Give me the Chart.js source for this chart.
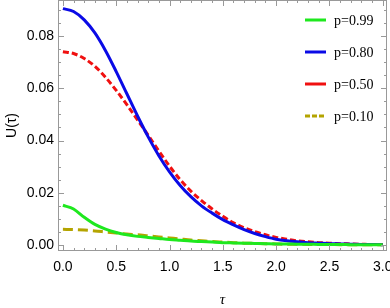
<!DOCTYPE html>
<html>
<head>
<meta charset="utf-8">
<script src="https://cdn.jsdelivr.net/npm/chart.js@4"></script>
<style>
  html, body { margin: 0; padding: 0; background: #fff; overflow: hidden; }
  #wrap { width: 390px; height: 308px; position: relative; }
</style>
</head>
<body>
<div id="wrap"><canvas id="chart"></canvas></div>
<script>
// tau grid and values
const tau = [0.0,0.1,0.2,0.3,0.4,0.5,0.6,0.7,0.8,0.9,1.0,1.1,1.2,1.3,1.4,1.5,1.6,1.7,1.8,1.9,2.0,2.1,2.2,2.3,2.4,2.5,2.6,2.7,2.8,2.9,3.0];
const u099 = [0.0152,0.0138,0.0106,0.0079,0.0061,0.0048,0.0039,0.0033,0.0029,0.0025,0.0021,0.0018,0.0015,0.0013,0.0011,0.0009,0.0008,0.0007,0.0006,0.0005,0.0004,0.0004,0.0003,0.0003,0.0002,0.0002,0.0002,0.0001,0.0001,0.0001,0.0001];
const u080 = [0.0905,0.0894,0.0862,0.0812,0.0744,0.0664,0.0579,0.0494,0.0414,0.0342,0.0280,0.0228,0.0185,0.0150,0.0122,0.0097,0.0077,0.0059,0.0044,0.0032,0.0022,0.0016,0.0012,0.0009,0.0007,0.0005,0.0004,0.0003,0.0002,0.0002,0.0001];
const u050 = [0.0740,0.0733,0.0714,0.0684,0.0642,0.0592,0.0537,0.0479,0.0420,0.0360,0.0302,0.0250,0.0206,0.0170,0.0138,0.0110,0.0085,0.0066,0.0051,0.0039,0.0029,0.0022,0.0016,0.0012,0.0009,0.0007,0.0005,0.0004,0.0003,0.0002,0.0002];
const u010 = [0.0060,0.0059,0.0057,0.0054,0.0050,0.0046,0.0042,0.0039,0.0035,0.0031,0.0027,0.0023,0.0019,0.0016,0.0013,0.0011,0.0009,0.0007,0.0006,0.0005,0.0004,0.0003,0.0003,0.0002,0.0002,0.0002,0.0001,0.0001,0.0001,0.0001,0.0001];

const xTicks = [0,0.5,1,1.5,2,2.5,3];
const yTicks = [0,0.02,0.04,0.06,0.08];
const legendLabels = ['p=0.99','p=0.80','p=0.50','p=0.10'];

const colors = ['#1ee81e','#0a0ae6','#f01010','#b4a400'];
const dashes = [[],[],[6,3],[10,5]];
const seriesList = [u099,u080,u050,u010];

const pts = arr => arr.map((v,i) => ({x: tau[i], y: v}));

// frame, inward ticks (major + minor) and legend
const framePlugin = {
  id: 'frame',
  afterDraw(chart){
    const {ctx, chartArea: a, scales: {x, y}} = chart;
    ctx.save();
    ctx.strokeStyle = '#999';
    ctx.lineWidth = 1;
    ctx.strokeRect(a.left+0.5, a.top+0.5, a.right-a.left-1, a.bottom-a.top-1);
    ctx.beginPath();
    for(let i=0;i<=30;i++){
      const v = i/10, px = Math.round(x.getPixelForValue(v))+0.5;
      const len = (i%5===0) ? 6 : 3;
      ctx.moveTo(px, a.bottom); ctx.lineTo(px, a.bottom-len);
      ctx.moveTo(px, a.top); ctx.lineTo(px, a.top+len);
    }
    for(let i=0;i<=18;i++){
      const v = i*0.005, py = Math.round(y.getPixelForValue(v))+0.5;
      const len = (i%4===0) ? 6 : 3;
      ctx.moveTo(a.left, py); ctx.lineTo(a.left+len, py);
      ctx.moveTo(a.right, py); ctx.lineTo(a.right-len, py);
    }
    ctx.stroke();

    // legend
    ctx.font = '14px "Liberation Serif", serif';
    ctx.textBaseline = 'middle';
    ctx.fillStyle = '#000';
    legendLabels.forEach((lab,i) => {
      const yy = 20 + i*32;
      ctx.strokeStyle = colors[i];
      ctx.lineWidth = 3;
      ctx.setLineDash(i===3 ? [5,2] : []);
      ctx.beginPath(); ctx.moveTo(305, yy); ctx.lineTo(326, yy); ctx.stroke();
      ctx.setLineDash([]);
      ctx.fillText(lab, 334, yy+1);
    });
    ctx.restore();
  }
};

new Chart(document.getElementById('chart'), {
  type: 'line',
  data: {
    datasets: seriesList.map((s,i) => ({
      label: legendLabels[i],
      data: pts(s),
      borderColor: colors[i],
      borderWidth: 3,
      borderDash: dashes[i],
      pointRadius: 0,
      cubicInterpolationMode: 'monotone',
      fill: false
    }))
  },
  options: {
    responsive: true,
    maintainAspectRatio: false,
    animation: false,
    layout: { padding: { top: 0, right: 3, left: 0, bottom: 0 } },
    plugins: { legend: { display: false }, tooltip: { enabled: false } },
    scales: {
      x: {
        type: 'linear', min: -0.046, max: 3.04,
        afterBuildTicks: s => { s.ticks = xTicks.map(v => ({value: v})); },
        afterFit: s => { s.height = 57; s.paddingLeft = 0; s.paddingRight = 0; },
        grid: { display: false, drawTicks: false },
        border: { display: false },
        ticks: { color: '#000', font: { family: '"Liberation Sans", Arial, sans-serif', size: 14 },
                 padding: 8, maxRotation: 0, callback: v => v.toFixed(1) },
        title: { display: true, text: 'τ', color: '#000', padding: { top: 4, bottom: 0 },
                 font: { family: '"Liberation Serif", serif', size: 15, style: 'italic', lineHeight: 1 } }
      },
      y: {
        type: 'linear', min: -0.0023, max: 0.0938,
        afterBuildTicks: s => { s.ticks = yTicks.map(v => ({value: v})); },
        afterFit: s => { s.width = 58; s.paddingTop = 0; s.paddingBottom = 0; },
        grid: { display: false, drawTicks: false },
        border: { display: false },
        ticks: { color: '#000', font: { family: '"Liberation Sans", Arial, sans-serif', size: 14 },
                 padding: 4, callback: v => v.toFixed(2) },
        title: { display: true, text: 'U(τ)', color: '#000', padding: { bottom: 0 },
                 font: { family: '"Liberation Sans", Arial, sans-serif', size: 14 } }
      }
    }
  },
  plugins: [framePlugin]
});
</script>
</body>
</html>
